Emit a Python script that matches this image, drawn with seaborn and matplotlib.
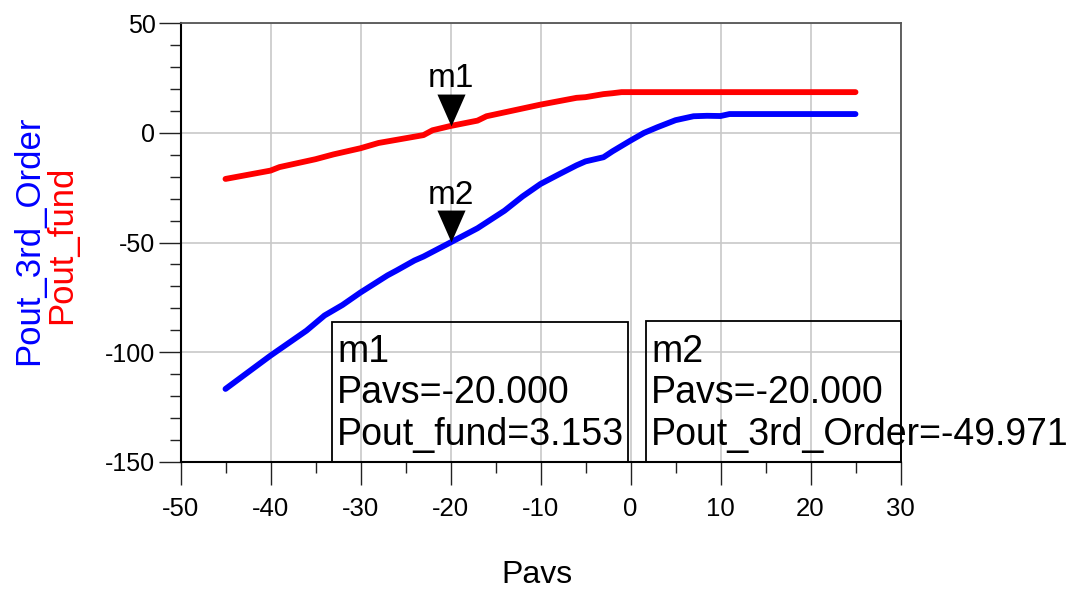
import matplotlib
matplotlib.use("Agg")
import matplotlib.pyplot as plt
from matplotlib.patches import Rectangle
import numpy as np
import pandas as pd
import seaborn as sns

# Swept available source power (dBm) and the resulting output powers
pavs_fund = [-45, -40, -39, -35, -33, -30, -28, -23, -22, -20, -17, -16,
             -10, -6, -5, -3, -2, -1, 25]
pout_fund = [-21.0, -17.2, -15.6, -12.0, -9.8, -7.0, -4.6, -1.0, 1.2, 3.153,
             5.6, 7.6, 12.9, 16.0, 16.3, 17.7, 18.1, 18.6, 18.6]

pavs_3rd = [-45, -40, -36, -34, -32, -30, -27, -26, -24, -23, -20, -17, -14,
            -12, -10, -8, -6, -5, -3, -2, 0, 1.5, 3, 5, 7, 8.5, 10, 11, 25]
pout_3rd = [-116.8, -101.6, -90.2, -83.3, -78.5, -72.8, -65.0, -62.8, -58.2,
            -56.4, -49.971, -43.5, -35.5, -29.0, -23.3, -19.0, -14.8, -13.0,
            -11.1, -8.4, -3.5, 0.0, 2.6, 5.8, 7.6, 7.8, 7.7, 8.6, 8.6]

# Marker readouts
m1_pavs, m1_val = -20.0, 3.153
m2_pavs, m2_val = -20.0, -49.971

x_ticks = [-50, -40, -30, -20, -10, 0, 10, 20, 30]
y_ticks = [-150, -100, -50, 0, 50]

RED = "#ff0000"
BLUE = "#0000ff"

sns.set_theme(style="white")
plt.rcParams["font.family"] = ["Liberation Sans", "DejaVu Sans"]
plt.rcParams.update({
    "text.color": "black",
    "axes.labelcolor": "black",
    "xtick.color": "black",
    "ytick.color": "black",
})

W, H = 1076, 595
fig = plt.figure(figsize=(W / 100, H / 100), dpi=100)
ax = fig.add_axes([180.5 / W, 1 - 461.7 / H, 720 / W, 438.4 / H])

df_fund = pd.DataFrame({"Pavs": pavs_fund, "Pout_fund": pout_fund})
df_3rd = pd.DataFrame({"Pavs": pavs_3rd, "Pout_3rd_Order": pout_3rd})

sns.lineplot(data=df_fund, x="Pavs", y="Pout_fund", color=RED, linewidth=4.2,
             ax=ax, solid_capstyle="round", zorder=3)
sns.lineplot(data=df_3rd, x="Pavs", y="Pout_3rd_Order", color=BLUE,
             linewidth=4.2, ax=ax, solid_capstyle="round", zorder=3)

ax.set_xlim(-50, 30)
ax.set_ylim(-150, 50)
ax.set_xticks(x_ticks)
ax.set_yticks(y_ticks)
ax.set_xticks(np.arange(-45, 30, 5), minor=True)
ax.set_yticks(np.arange(-150, 51, 10), minor=True)
ax.set_xticklabels([str(v) for v in x_ticks])
ax.set_yticklabels([str(v) for v in y_ticks])
ax.tick_params(axis="x", which="major", direction="out", length=16.5,
               width=1.0, color="#222222", pad=9, labelsize=18.5,
               labelcolor="black")
ax.tick_params(axis="y", which="major", direction="out", length=16,
               width=1.0, color="#222222", pad=2, labelsize=18,
               labelcolor="black")
ax.tick_params(which="minor", direction="out", length=8, width=1.0,
               color="#222222")
ax.xaxis.set_ticks_position("bottom")
ax.yaxis.set_ticks_position("left")

ax.grid(True, which="major", color="#c8c8c8", linewidth=1.2, zorder=0)
ax.set_axisbelow(True)

for side in ("left", "bottom"):
    ax.spines[side].set_color("black")
    ax.spines[side].set_linewidth(1.5)
for side in ("top", "right"):
    ax.spines[side].set_color("#555555")
    ax.spines[side].set_linewidth(1.3)

ax.set_xlabel("")
ax.set_ylabel("")

# Axis titles
fig.text(537 / W, 1 - 583 / H, "Pavs", fontsize=23, ha="center",
         va="baseline", color="black")
fig.text(38 / W, 1 - 240 / H, "Pout_3rd_Order", color=BLUE, fontsize=25,
         rotation=90, rotation_mode="anchor", ha="center", va="baseline")
fig.text(71 / W, 1 - 245 / H, "Pout_fund", color=RED, fontsize=25,
         rotation=90, rotation_mode="anchor", ha="center", va="baseline")

# Marker triangles pointing at the marked samples
tri = [(0, 0), (-0.44, 1), (0.44, 1)]
for name, mx, my in (("m1", m1_pavs, m1_val), ("m2", m2_pavs, m2_val)):
    ax.plot([mx], [my], marker=tri, markersize=46, color="black",
            markeredgewidth=0, linestyle="none", zorder=5, clip_on=False)
    ax.annotate(name, xy=(mx, my), xytext=(0, 28), textcoords="offset points",
                ha="center", va="baseline", fontsize=24, color="black",
                zorder=6)

# Marker readout boxes
box_kw = dict(fill=False, edgecolor="black", linewidth=1.3, zorder=4,
              clip_on=False)
ax.add_patch(Rectangle((-33.2, -150), 32.9, 63.6, **box_kw))
ax.add_patch(Rectangle((1.7, -150), 28.3, 64.3, **box_kw))

line_y = [-104.5, -123.3, -142.4]
m1_lines = ["m1", f"Pavs={m1_pavs:.3f}", f"Pout_fund={m1_val:.3f}"]
m2_lines = ["m2", f"Pavs={m2_pavs:.3f}", f"Pout_3rd_Order={m2_val:.3f}"]
for lines, x0 in ((m1_lines, -32.6), (m2_lines, 2.3)):
    for txt, yy in zip(lines, line_y):
        ax.text(x0, yy, txt, fontsize=27, ha="left", va="baseline",
                color="black", zorder=6, clip_on=False)

fig.savefig("out.png", dpi=100)
